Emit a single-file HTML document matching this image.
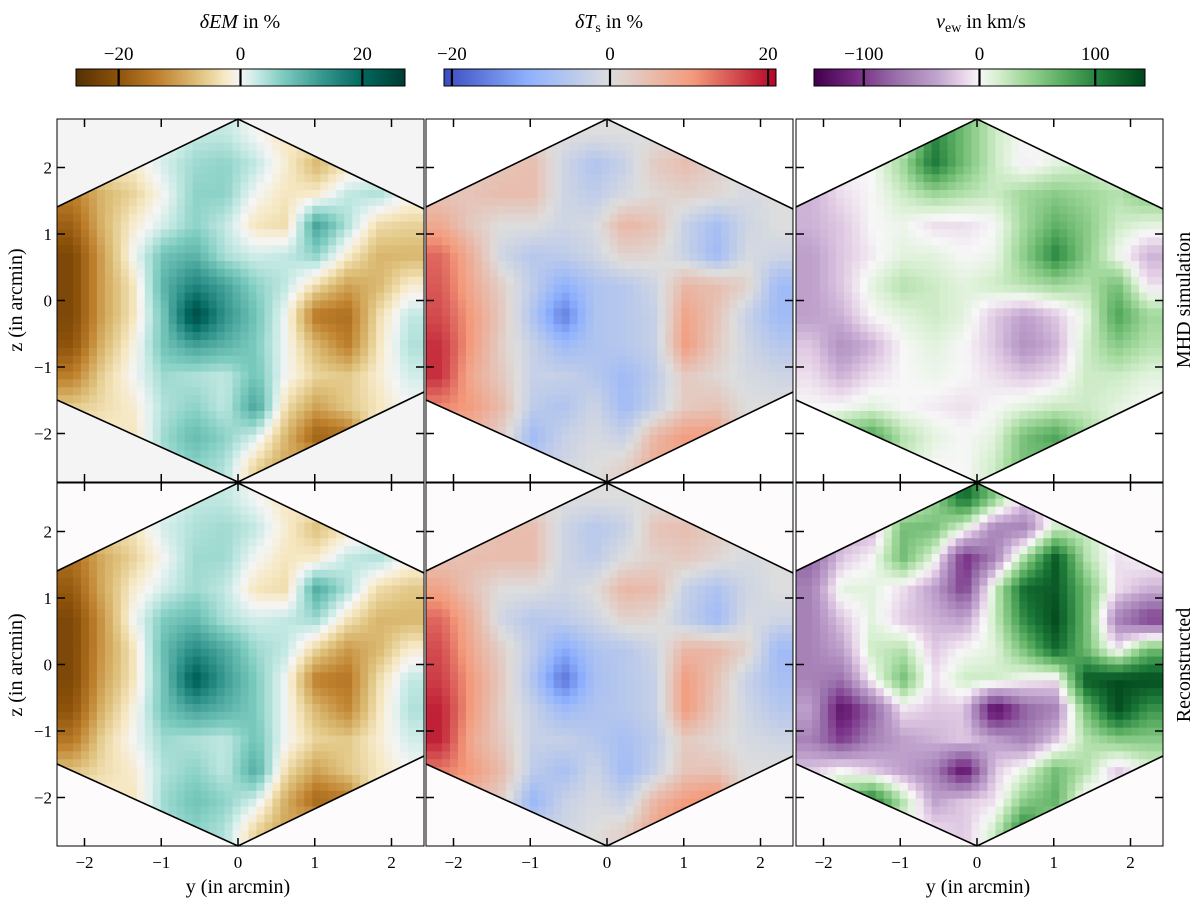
<!DOCTYPE html>
<html><head><meta charset="utf-8"><style>
body{margin:0;background:#fff;}
svg text{font-family:"Liberation Serif",serif;fill:#000;}
</style></head><body>
<svg id="fig" width="1200" height="916" viewBox="0 0 1200 916" xmlns="http://www.w3.org/2000/svg"></svg>
<script>
// ---- data: coarse maps (12 rows x 12 cols, top row first) ----
const emSim = [
[0,0,0,0,3,3,0,-3,0,0,0,0],
[0,-3,-2,2,5,6,3,-2,-8,-3,0,0],
[-14,-8,-5,0,6,6,0,-3,-2,3,4,0],
[-18,-8,-2,2,6,3,-3,-4,12,4,-4,-5],
[-22,-10,0,8,10,4,2,3,6,-2,-8,-8],
[-22,-10,-3,10,16,12,6,3,-4,-10,-8,-2],
[-22,-10,-3,8,25,14,8,0,-15,-16,-4,3],
[-20,-8,-1,8,12,10,7,0,-8,-14,-3,4],
[-14,-5,0,5,4,3,8,0,-5,-6,-2,2],
[-6,-4,-2,4,6,3,12,-4,-10,-6,-3,0],
[0,-2,-3,5,9,6,2,-8,-18,-16,0,0],
[0,0,0,4,6,4,-5,-10,-6,0,0,0]];
const emRec = [
[0,0,0,0,3,3,0,-3,0,0,0,0],
[0,-5,-3,2,4,5,3,-2,-7,-3,0,0],
[-16,-9,-5,0,5,5,0,-3,-2,3,4,0],
[-19,-9,-2,2,5,3,-3,-4,11,4,-4,-6],
[-22,-11,0,7,9,4,2,3,5,-3,-8,-8],
[-22,-11,-3,9,15,11,5,3,-5,-11,-8,-2],
[-22,-10,-3,8,22,13,7,0,-14,-15,-4,3],
[-20,-8,-1,8,12,10,7,0,-8,-13,-3,4],
[-15,-5,0,5,4,3,8,0,-5,-6,-2,2],
[-7,-4,-2,4,6,3,11,-4,-10,-6,-3,0],
[0,-2,-3,5,8,6,2,-9,-17,-15,0,0],
[0,0,0,4,6,4,-5,-10,-6,0,0,0]];
const tSim = [
[0,0,0,0,0,0,0,0,0,0,0,0],
[0,3,4,5,-2,-6,-3,3,5,2,0,0],
[4,4,5,5,-2,-4,-1,1,2,1,-1,0],
[8,3,0,0,-2,-1,6,4,-3,-7,-2,0],
[14,7,-2,-5,-4,-2,2,1,-3,-8,-1,-2],
[15,8,2,-4,-10,-6,-5,-2,6,5,2,-8],
[16,10,3,-6,-16,-6,-5,-3,9,4,-3,-8],
[18,10,2,-3,-8,-6,-5,-3,10,3,-2,-5],
[18,8,3,-3,-3,-5,-8,-4,3,1,-1,-2],
[12,10,5,-4,-6,-2,-8,-3,3,4,0,0],
[5,6,2,-8,-3,-1,-3,6,10,10,0,0],
[0,0,0,-3,-2,0,2,8,9,0,0,0]];
const tRec = [
[0,0,0,0,0,0,0,0,0,0,0,0],
[0,3,5,5,-2,-5,-3,4,5,3,0,0],
[4,5,5,5,-2,-4,0,2,3,1,-1,0],
[9,4,0,0,-2,0,6,5,-3,-6,-2,0],
[14,7,-2,-5,-4,-2,2,1,-4,-8,-1,-2],
[16,8,2,-4,-11,-6,-5,-2,6,6,2,-8],
[17,10,3,-6,-17,-7,-5,-3,10,4,-3,-7],
[19,10,2,-3,-8,-6,-5,-3,10,3,-2,-5],
[19,8,3,-3,-3,-5,-7,-4,3,1,-1,-2],
[13,10,5,-4,-7,-2,-8,-3,4,4,0,0],
[5,6,2,-9,-3,-1,-3,6,10,12,0,0],
[0,0,0,-3,-2,0,2,9,14,0,0,0]];
const vSim = [
[0,0,0,0,100,60,20,0,0,0,0,0],
[0,0,0,40,110,60,20,-5,10,20,0,0],
[-30,-10,0,20,40,30,20,40,50,40,30,50],
[-30,-20,0,5,-10,-10,0,40,70,50,20,10],
[-40,-20,-5,10,10,0,5,50,100,50,5,-30],
[-40,-20,10,30,20,10,20,30,40,30,60,-10],
[-40,-30,0,10,20,10,-20,-40,-20,10,80,40],
[-20,-50,-30,0,10,0,-20,-50,-30,20,50,30],
[-10,-30,-10,0,5,0,-10,-20,-10,20,20,10],
[0,0,10,0,-5,-10,0,10,20,20,10,0],
[0,60,80,30,10,0,10,60,80,40,10,0],
[0,0,40,20,0,0,20,60,50,10,0,0]];
const vRec = [
[0,0,0,0,40,120,50,-20,0,0,0,0],
[0,-40,-30,60,60,10,-60,-60,20,20,0,0],
[-80,-20,0,60,10,-110,-60,40,130,30,-10,0],
[-60,10,10,-10,-40,-100,20,120,130,60,-10,-30],
[-60,-20,10,-20,-30,-40,20,100,140,60,-60,-100],
[-60,-40,20,30,-20,0,10,60,120,60,-10,60],
[-60,-70,0,60,-10,20,20,0,-10,130,140,140],
[-40,-130,-80,-10,-20,-20,-140,-80,-60,60,140,90],
[-60,-100,-60,-40,-30,-20,-40,-60,-20,30,50,50],
[-20,0,-20,-40,-60,-130,-20,10,60,30,-20,10],
[0,60,110,30,-40,-20,-10,50,70,-10,0,0],
[0,0,20,10,-10,-20,20,110,20,0,0,0]];
const xTicks = [-2,-1,0,1,2];
const yTicks = [-2,-1,0,1,2];
const emCbTicks = [-20,0,20];
const tCbTicks = [-20,0,20];
const vCbTicks = [-100,0,100];

// ---- colormaps ----
const BrBG=[[-1,'#543005'],[-0.75,'#8c510a'],[-0.5,'#bf812d'],[-0.25,'#dfc27d'],[-0.1,'#f6e8c3'],[0,'#f5f5f5'],[0.1,'#c7eae5'],[0.25,'#80cdc1'],[0.5,'#35978f'],[0.75,'#01665e'],[1,'#003c30']];
const CW=[[-1,'#3b4cc0'],[-0.5,'#8db0fe'],[0,'#dddddd'],[0.5,'#f49a7b'],[1,'#b40426']];
const PRGn=[[-1,'#40004b'],[-0.75,'#762a83'],[-0.5,'#9970ab'],[-0.25,'#c2a5cf'],[-0.1,'#e7d4e8'],[0,'#f7f7f7'],[0.1,'#d9f0d3'],[0.25,'#a6dba0'],[0.5,'#5aae61'],[0.75,'#1b7837'],[1,'#00441b']];
function hex2(h){return [1,3,5].map(i=>parseInt(h.substr(i,2),16));}
function cmap(stops,t){t=Math.max(-1,Math.min(1,t));
 for(let i=0;i<stops.length-1;i++){const a=stops[i],b=stops[i+1];
  if(t<=b[0]){const f=(t-a[0])/(b[0]-a[0]);const ca=hex2(a[1]),cb=hex2(b[1]);
   return 'rgb('+ca.map((c,k)=>Math.round(c+(cb[k]-c)*f)).join(',')+')';}}
 return stops[stops.length-1][1];}

const NS='http://www.w3.org/2000/svg';
const svg=document.getElementById('fig');
function el(tag,attrs,parent){const e=document.createElementNS(NS,tag);for(const k in attrs)e.setAttribute(k,attrs[k]);(parent||svg).appendChild(e);return e;}

const PX=[57,426,796], PY=[119,483], PW=367, PH=363;
const XS=76.75, YS=66.5;
const panels=[
 {grid:emSim,cm:BrBG,rng:27,col:0,row:0,bg:'#f4f4f4',name:'em-simulation-map'},
 {grid:tSim,cm:CW,rng:21,col:1,row:0,bg:'#ffffff',name:'temperature-simulation-map'},
 {grid:vSim,cm:PRGn,rng:145,col:2,row:0,bg:'#ffffff',name:'velocity-simulation-map'},
 {grid:emRec,cm:BrBG,rng:27,col:0,row:1,bg:'#fdfbfb',name:'em-reconstructed-map'},
 {grid:tRec,cm:CW,rng:21,col:1,row:1,bg:'#fdfbfb',name:'temperature-reconstructed-map'},
 {grid:vRec,cm:PRGn,rng:145,col:2,row:1,bg:'#fdfbfb',name:'velocity-reconstructed-map'}];

function sample(g,u,v){
 const n=g.length, m=g[0].length;
 let x=u*m-0.5, y=v*n-0.5; x=Math.max(0,Math.min(m-1,x)); y=Math.max(0,Math.min(n-1,y));
 const x0=Math.floor(x),y0=Math.floor(y),x1=Math.min(m-1,x0+1),y1=Math.min(n-1,y0+1),fx=x-x0,fy=y-y0;
 return g[y0][x0]*(1-fx)*(1-fy)+g[y0][x1]*fx*(1-fy)+g[y1][x0]*(1-fx)*fy+g[y1][x1]*fx*fy;}

panels.forEach((p,idx)=>{
 const x0=PX[p.col], y0=PY[p.row];
 const g=el('g',{});
 
 
 el('rect',{x:x0,y:y0,width:PW,height:PH,fill:p.bg},g);
 const hexPts=[[181,0],[0,88],[0,281],[181,363],[367,273],[367,90]].map(q=>(x0+q[0])+','+(y0+q[1])).join(' ');
 const cp=el('clipPath',{id:'clip'+idx},g); el('polygon',{points:hexPts},cp);
 const cells=el('g',{'clip-path':'url(#clip'+idx+')'},g);
 const N=46, cw=PW/N, ch=PH/N;
 for(let i=0;i<N;i++)for(let j=0;j<N;j++){
  const v=sample(p.grid,(j+0.5)/N,(i+0.5)/N);
  const r=el('rect',{x:(x0+j*cw).toFixed(2),y:(y0+i*ch).toFixed(2),width:(cw+0.6).toFixed(2),height:(ch+0.6).toFixed(2),fill:cmap(p.cm,v/p.rng)},cells);
  
  
 }
 const hx=el('polyline',{points:[[0,88],[181,0],[367,90]].map(q=>(x0+q[0])+','+(y0+q[1])).join(' '),fill:'none',stroke:'#000','stroke-width':1.6},g);
 
 
 const hb=el('polyline',{points:[[0,281],[181,363],[367,273]].map(q=>(x0+q[0])+','+(y0+q[1])).join(' '),fill:'none',stroke:'#000','stroke-width':1.6},g);
 
 
 el('rect',{x:x0,y:y0,width:PW,height:PH,fill:'none',stroke:'#000','stroke-width':1},g);
 const xc=x0+181, yc=y0+181.5;
 xTicks.forEach(t=>{const x=xc+t*XS;
  el('line',{x1:x,x2:x,y1:y0,y2:y0+8,stroke:'#000','stroke-width':1.5},g);
  el('line',{x1:x,x2:x,y1:y0+PH,y2:y0+PH-8,stroke:'#000','stroke-width':1.5},g);
  if(p.row===1){const tl=el('text',{x:x,y:y0+PH+22,'font-size':17,'text-anchor':'middle'},g);tl.textContent=(t<0?'\u2212':'')+Math.abs(t);
   }
 });
 yTicks.forEach(t=>{const y=yc-t*YS;
  el('line',{x1:x0,x2:x0+8,y1:y,y2:y,stroke:'#000','stroke-width':1.5},g);
  el('line',{x1:x0+PW,x2:x0+PW-8,y1:y,y2:y,stroke:'#000','stroke-width':1.5},g);
  if(p.col===0){const tl=el('text',{x:x0-5,y:y+6,'font-size':17,'text-anchor':'end'},g);tl.textContent=(t<0?'\u2212':'')+Math.abs(t);
   }
 });
});

// colorbars
const cbs=[
 {x0:76,x1:405,rng:27,cm:BrBG,ticks:emCbTicks,title:'<tspan font-style="italic">δEM</tspan> in %',cx:240,name:'em-colorbar'},
 {x0:444,x1:776,rng:21,cm:CW,ticks:tCbTicks,title:'<tspan font-style="italic">δT</tspan><tspan font-size="14" dy="4">s</tspan><tspan dy="-4"> in %</tspan>',cx:609,name:'temperature-colorbar'},
 {x0:814,x1:1145,rng:143,cm:PRGn,ticks:vCbTicks,title:'<tspan font-style="italic">v</tspan><tspan font-size="14" dy="4">ew</tspan><tspan dy="-4"> in km/s</tspan>',cx:981,name:'velocity-colorbar'}];
cbs.forEach((c,k)=>{
 const g=el('g',{});
 
 
 const gr=el('linearGradient',{id:'cbg'+k,x1:0,x2:1,y1:0,y2:0},g);
 for(let i=0;i<=40;i++){el('stop',{offset:i/40,'stop-color':cmap(c.cm,-1+2*i/40)},gr);}
 el('rect',{x:c.x0,y:69,width:c.x1-c.x0,height:17,fill:'url(#cbg'+k+')',stroke:'#000','stroke-width':1},g);
 const sc=(c.x1-c.x0)/(2*c.rng), mid=(c.x0+c.x1)/2;
 c.ticks.forEach(t=>{const x=mid+t*sc;
  el('line',{x1:x,x2:x,y1:69,y2:86,stroke:'#000','stroke-width':2.2},g);
  const tl=el('text',{x:x,y:60,'font-size':19,'text-anchor':'middle'},g);tl.textContent=(t<0?'\u2212':'')+Math.abs(t);
  });
 const tt=el('text',{x:c.cx,y:28,'font-size':20,'text-anchor':'middle'},g); tt.innerHTML=c.title;
 
});

// axis titles
[[238,'x-axis-title-left'],[978,'x-axis-title-right']].forEach(a=>{
 const t=el('text',{x:a[0],y:893,'font-size':20,'text-anchor':'middle'});t.textContent='y (in arcmin)';
 });
[[300,'y-axis-title-top'],[665,'y-axis-title-bottom']].forEach(a=>{
 const t=el('text',{x:0,y:0,'font-size':20,'text-anchor':'middle',transform:'translate(22,'+a[0]+') rotate(-90)'});t.textContent='z (in arcmin)';
 });
[[300,'MHD simulation','row-label-simulation'],[665,'Reconstructed','row-label-reconstructed']].forEach(a=>{
 const t=el('text',{x:0,y:0,'font-size':20,'text-anchor':'middle',transform:'translate(1190,'+a[0]+') rotate(-90)'});t.textContent=a[1];
 });
</script>
</body></html>
